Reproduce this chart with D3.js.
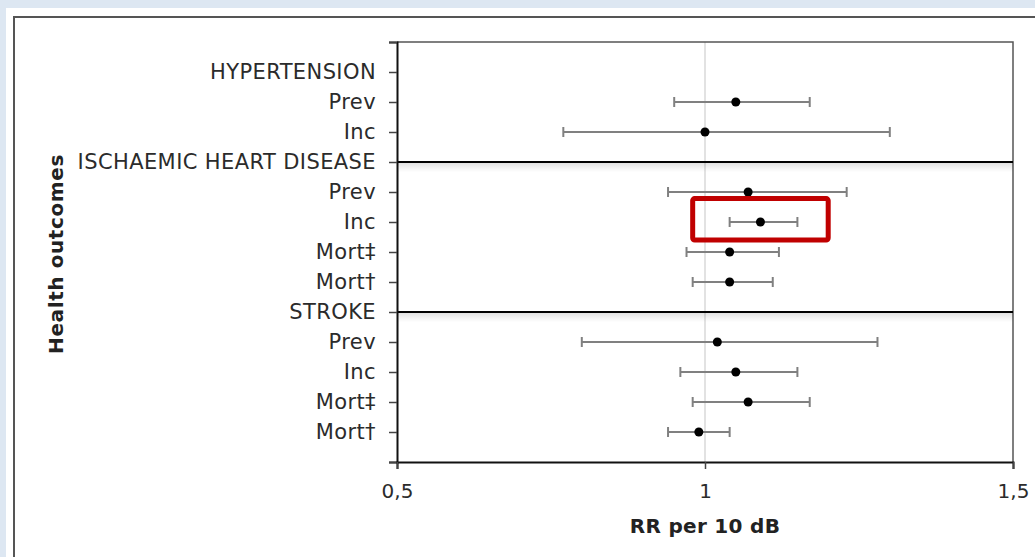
<!DOCTYPE html>
<html>
<head>
<meta charset="utf-8">
<script src="https://cdn.jsdelivr.net/npm/d3@7"></script>
<style>
  html, body { margin: 0; padding: 0; background: #dde7f2; }
  svg { display: block; font-family: "DejaVu Sans", Verdana, sans-serif; }
</style>
</head>
<body>
<div id="chart"></div>
<script>
// rows top to bottom (group headers have no estimate)
const labels = ["HYPERTENSION", "Prev", "Inc", "ISCHAEMIC HEART DISEASE", "Prev", "Inc", "Mort‡", "Mort†",
                "STROKE", "Prev", "Inc", "Mort‡", "Mort†"];
const rr    = [null, 1.05, 1.00, null, 1.07, 1.09, 1.04, 1.04, null, 1.02, 1.05, 1.07, 0.99];
const lower = [null, 0.95, 0.77, null, 0.94, 1.04, 0.97, 0.98, null, 0.80, 0.96, 0.98, 0.94];
const upper = [null, 1.17, 1.30, null, 1.23, 1.15, 1.12, 1.11, null, 1.28, 1.15, 1.17, 1.04];
const xTicks = [0.5, 1, 1.5];
const headerRows = [3, 8]; // separator lines at IHD and STROKE
const highlight = { row: 5, x0: 0.98, x1: 1.2 }; // red box round IHD Inc

const width = 1035, height = 557;
const plotL = 397, plotR = 1013, plotT = 42, plotB = 462;

const svg = d3.select("#chart").append("svg")
    .attr("width", width)
    .attr("height", height);

// white card + chart border (clipped at the window edge)
svg.append("rect").attr("x", 6).attr("y", 8).attr("width", width).attr("height", height).attr("fill", "#fff");
svg.append("rect").attr("x", 14).attr("y", 17).attr("width", width + 20).attr("height", height + 20)
    .attr("fill", "none").attr("stroke", "#555").attr("stroke-width", 2);

const x = d3.scaleLinear().domain([0.5, 1.5]).range([plotL, plotR]);
const y = d3.scaleLinear().domain([0, labels.length + 1]).range([plotT, plotB]);

const defs = svg.append("defs");
const grad = defs.append("linearGradient").attr("id", "shadow").attr("x1", 0).attr("y1", 0).attr("x2", 0).attr("y2", 1);
grad.append("stop").attr("offset", "0%").attr("stop-color", "#000").attr("stop-opacity", 0.12);
grad.append("stop").attr("offset", "100%").attr("stop-color", "#000").attr("stop-opacity", 0);

// gridline at 1
svg.append("line")
    .attr("x1", x(1)).attr("x2", x(1))
    .attr("y1", plotT).attr("y2", plotB)
    .attr("stroke", "#d9d9d9").attr("stroke-width", 1.5);

// plot border top / right
svg.append("path")
    .attr("d", `M${plotL},${plotT}H${plotR}V${plotB}`)
    .attr("fill", "none").attr("stroke", "#555").attr("stroke-width", 1.5);

// group separators
headerRows.forEach(i => {
  svg.append("rect")
      .attr("x", plotL).attr("y", y(i + 1) + 1)
      .attr("width", plotR - plotL).attr("height", 9)
      .attr("fill", "url(#shadow)");
  svg.append("line")
      .attr("x1", plotL).attr("x2", plotR)
      .attr("y1", y(i + 1)).attr("y2", y(i + 1))
      .attr("stroke", "#000").attr("stroke-width", 2);
});

// axes
const yAxis = d3.axisLeft(y)
    .tickValues(d3.range(0, labels.length + 2))
    .tickFormat(i => labels[i - 1] || "")
    .tickSize(8).tickPadding(13);

const gy = svg.append("g").attr("transform", `translate(${plotL},0)`).call(yAxis);
gy.select(".domain").attr("stroke", "#111").attr("stroke-width", 2);
gy.selectAll(".tick line").attr("stroke", "#444").attr("stroke-width", 1.5);
gy.selectAll(".tick text").attr("font-size", 21).attr("letter-spacing", 0.4)
    .attr("fill", "#2b2b2b").attr("font-family", "DejaVu Sans");

const xAxis = d3.axisBottom(x)
    .tickValues(xTicks)
    .tickFormat(d => String(d).replace(".", ","))
    .tickSize(7).tickPadding(15);

const gx = svg.append("g").attr("transform", `translate(0,${plotB})`).call(xAxis);
gx.select(".domain").attr("stroke", "#111").attr("stroke-width", 2);
gx.selectAll(".tick line").attr("stroke", "#444").attr("stroke-width", 1.5);
gx.selectAll(".tick text").attr("font-size", 20).attr("fill", "#2b2b2b").attr("font-family", "DejaVu Sans");

// error bars + points
const rows = labels.map((l, i) => ({ i, est: rr[i], lo: lower[i], hi: upper[i] })).filter(d => d.est != null);

const bars = svg.append("g").attr("stroke", "#808080").attr("stroke-width", 2);
rows.forEach(d => {
  const cy = y(d.i + 1);
  bars.append("line").attr("x1", x(d.lo)).attr("x2", x(d.hi)).attr("y1", cy).attr("y2", cy);
  bars.append("line").attr("x1", x(d.lo)).attr("x2", x(d.lo)).attr("y1", cy - 5).attr("y2", cy + 5);
  bars.append("line").attr("x1", x(d.hi)).attr("x2", x(d.hi)).attr("y1", cy - 5).attr("y2", cy + 5);
});

svg.selectAll(".pt")
  .data(rows)
  .enter()
  .append("circle")
  .attr("class", "pt")
  .attr("cx", d => x(d.est))
  .attr("cy", d => y(d.i + 1))
  .attr("r", 4.5)
  .attr("fill", "#000");

// highlight box
const rowH = y(1) - y(0);
const hy0 = y(highlight.row + 1) - 0.78 * rowH;
const hy1 = y(highlight.row + 1) + 0.6 * rowH;
svg.append("rect")
    .attr("x", x(highlight.x0)).attr("y", hy0)
    .attr("width", x(highlight.x1) - x(highlight.x0)).attr("height", hy1 - hy0)
    .attr("rx", 2)
    .attr("fill", "none").attr("stroke", "#c00000").attr("stroke-width", 5);

// axis titles
svg.append("text")
    .attr("x", x(1)).attr("y", 533)
    .attr("text-anchor", "middle")
    .attr("font-size", 20).attr("letter-spacing", 0.3).attr("font-weight", "bold").attr("fill", "#222")
    .text("RR per 10 dB");

svg.append("text")
    .attr("transform", "translate(63,254) rotate(-90)")
    .attr("text-anchor", "middle")
    .attr("font-size", 20).attr("letter-spacing", 0.6).attr("font-weight", "bold").attr("fill", "#222")
    .text("Health outcomes");
</script>
</body>
</html>
